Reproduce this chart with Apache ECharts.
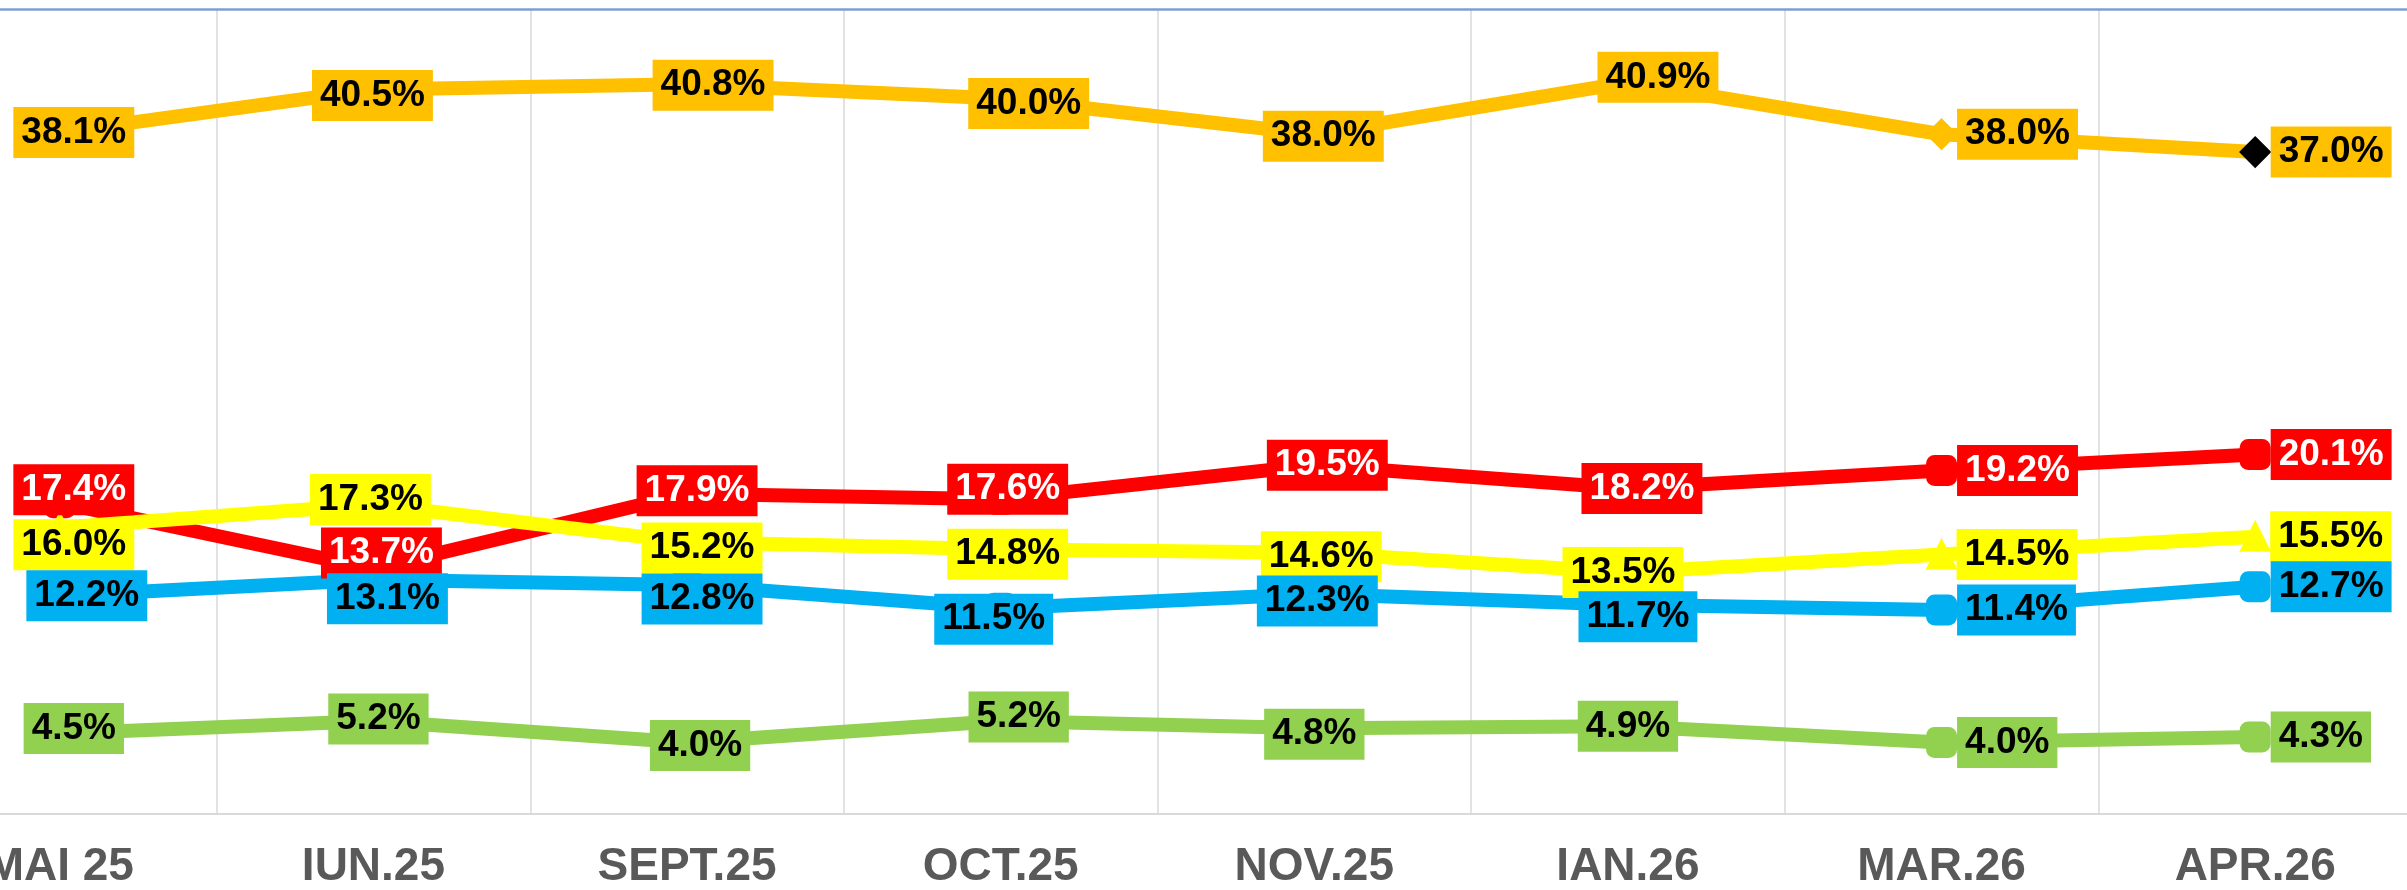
<!DOCTYPE html>
<html>
<head>
<meta charset="utf-8">
<script src="https://cdn.jsdelivr.net/npm/echarts@6/dist/echarts.min.js"></script>
<style>
html,body{margin:0;padding:0;background:#fff;overflow:hidden;width:2407px;height:890px;position:relative;}
#chart{position:absolute;left:-97px;top:0;width:2509px;height:890px;}
</style>
</head>
<body>
<div id="chart"></div>
<script>
// ---- data ----
const categories = ['MAI 25', 'IUN.25', 'SEPT.25', 'OCT.25', 'NOV.25', 'IAN.26', 'MAR.26', 'APR.26'];
const seriesOrange = [38.1, 40.5, 40.8, 40.0, 38.0, 40.9, 38.0, 37.0];
const seriesRed    = [17.4, 13.7, 17.9, 17.6, 19.5, 18.2, 19.2, 20.1];
const seriesYellow = [16.0, 17.3, 15.2, 14.8, 14.6, 13.5, 14.5, 15.5];
const seriesBlue   = [12.2, 13.1, 12.8, 11.5, 12.3, 11.7, 11.4, 12.7];
const seriesGreen  = [4.5, 5.2, 4.0, 5.2, 4.8, 4.9, 4.0, 4.3];
const yMin = 0, yMax = 45;

// ---- layout: label nudges (pixels) for centred labels ----
const nudges = {
  orange: [[14,0],[-1,6],[26,1],[28,5],[9,2],[30,-5]],
  red:    [[14,-13],[8,-16],[10,-3],[7,-10],[13,0],[14,0]],
  yellow: [[14,17],[-3,-5],[15,6],[7,5],[7,4],[-5,0]],
  blue:   [[27,0],[14,19],[15,14],[-7,11],[3,7],[10,12]],
  green:  [[14,-5],[5,-2],[13,3],[18,-4],[0,6],[0,0]]
};

const FONT = '"Liberation Sans", Arial, sans-serif';

function makeSeries(name, values, color, textColor, symbol, nudge, lastColor) {
  return {
    name: name,
    type: 'line',
    data: values.map(function (v, i) {
      const item = { value: v };
      if (i >= values.length - 2) {
        item.label = { position: 'right', distance: 0, offset: [0, 0] };
      } else {
        item.label = { position: 'inside', offset: nudge[i] };
      }
      if (lastColor && i === values.length - 1) {
        item.itemStyle = { color: lastColor, borderColor: lastColor };
      }
      return item;
    }),
    symbol: symbol,
    symbolSize: symbol === 'triangle' ? 27 : 28,
    showSymbol: true,
    lineStyle: { color: color, width: 14, cap: 'round', join: 'round' },
    itemStyle: { color: color, borderColor: color, borderWidth: 3, opacity: 1 },
    label: {
      show: true,
      formatter: function (p) { return p.value.toFixed(1) + '%'; },
      fontFamily: FONT,
      fontWeight: 'bold',
      fontSize: 37,
      lineHeight: 41,
      color: textColor,
      backgroundColor: color,
      padding: [5, 8, 5, 8]
    },
    emphasis: { disabled: true },
    animation: false
  };
}

const chart = echarts.init(document.getElementById('chart'), null, { renderer: 'canvas' });
chart.setOption({
  backgroundColor: '#ffffff',
  animation: false,
  grid: { left: 0, right: 0, top: 9, bottom: 72, containLabel: false },
  xAxis: [{
    type: 'category',
    data: categories,
    boundaryGap: true,
    axisLine: { show: true, lineStyle: { color: '#D9D9D9', width: 2 } },
    axisTick: { show: false },
    splitLine: { show: true, lineStyle: { color: '#D9D9D9', width: 1.5 } },
    axisLabel: {
      interval: 0,
      margin: 30,
      fontFamily: FONT,
      fontWeight: 'bold',
      fontSize: 46,
      color: '#595959'
    }
  }, {
    type: 'category',
    data: categories,
    position: 'top',
    axisLine: { show: true, lineStyle: { color: '#7F9FD3', width: 2.5 } },
    axisTick: { show: false },
    axisLabel: { show: false },
    splitLine: { show: false }
  }],
  yAxis: {
    type: 'value',
    min: yMin,
    max: yMax,
    show: false,
    splitLine: { show: false }
  },
  series: [
    makeSeries('orange', seriesOrange, '#FFC000', '#000000', 'diamond', nudges.orange, '#000000'),
    makeSeries('red', seriesRed, '#FF0000', '#FFFFFF', 'roundRect', nudges.red),
    makeSeries('yellow', seriesYellow, '#FFFF00', '#000000', 'triangle', nudges.yellow),
    makeSeries('blue', seriesBlue, '#00B0F0', '#000000', 'roundRect', nudges.blue),
    makeSeries('green', seriesGreen, '#92D050', '#000000', 'roundRect', nudges.green)
  ]
});
</script>
</body>
</html>
